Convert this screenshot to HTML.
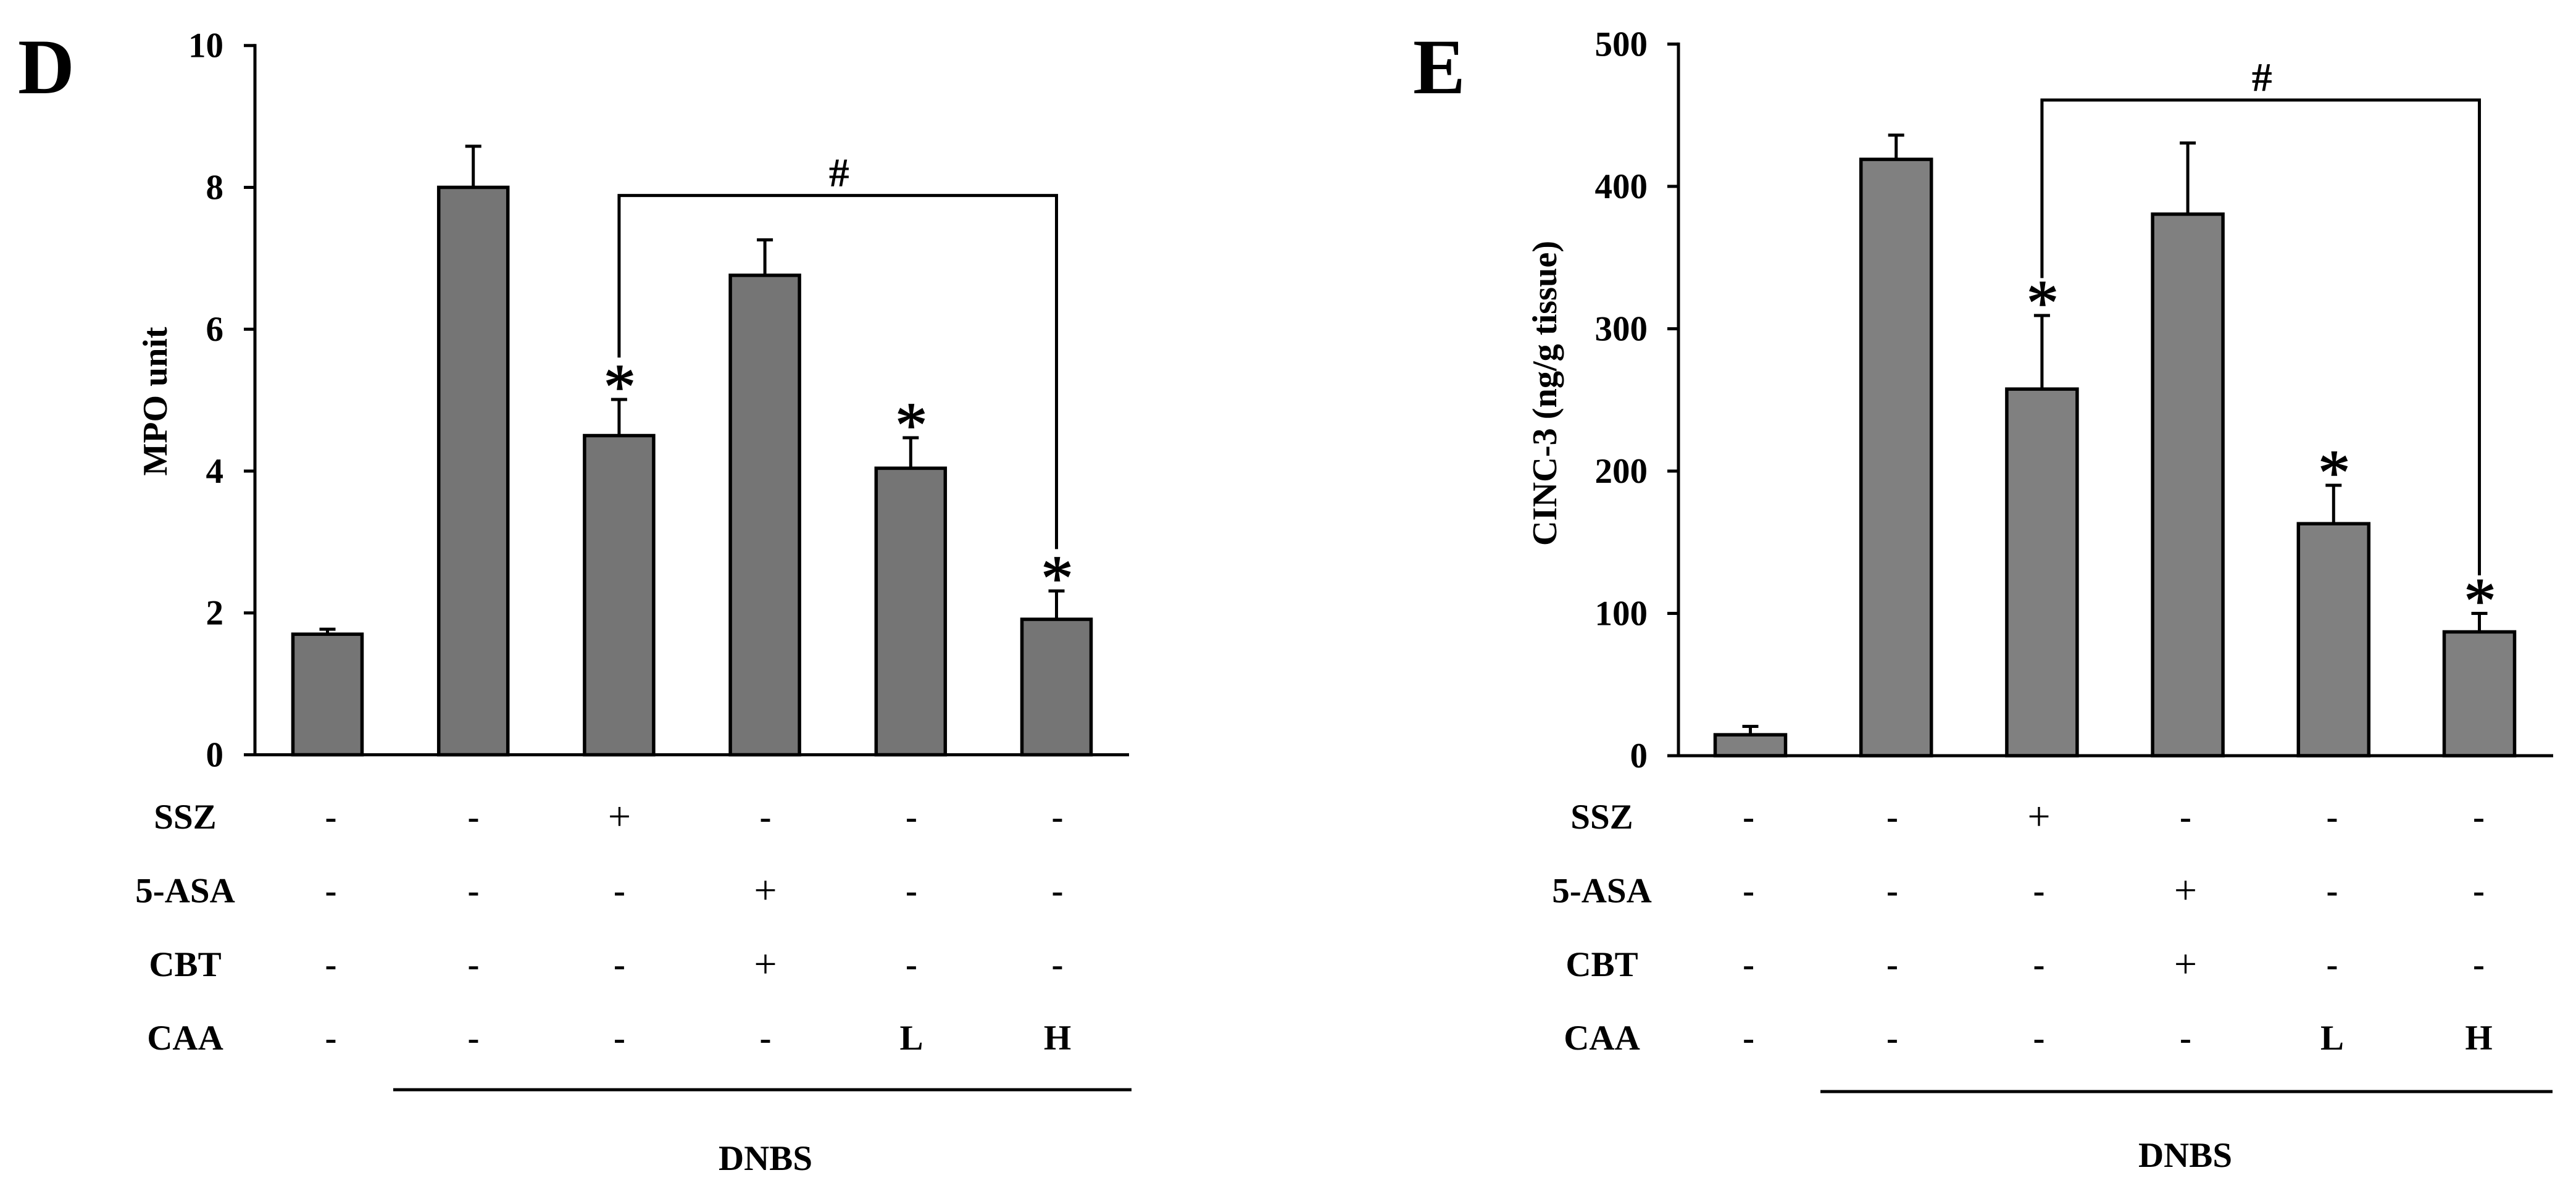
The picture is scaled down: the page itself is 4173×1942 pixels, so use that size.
<!DOCTYPE html>
<html lang="en">
<head>
<meta charset="utf-8">
<title>MPO and CINC-3 bar charts</title>
<style>
  html, body { margin: 0; padding: 0; background: #fff; }
  svg { display: block; }
  text { font-family: "Liberation Serif", "Times New Roman", serif; font-weight: bold; fill: #000; }
</style>
</head>
<body>
<svg id="figure" xmlns="http://www.w3.org/2000/svg" width="4173" height="1942" viewBox="0 0 4173 1942">
  <rect x="0" y="0" width="4173" height="1942" fill="#fff"/>
  <text x="29" y="151" font-size="127">D</text>
  <text x="2289" y="151" font-size="127">E</text>
  <text transform="translate(270 650) rotate(-90)" text-anchor="middle" font-size="56">MPO unit</text>
  <text transform="translate(2521 637) rotate(-90)" text-anchor="middle" font-size="56.3">CINC-3 (ng/g tissue)</text>
  <text x="1240" y="1895" text-anchor="middle" font-size="57">DNBS</text>
  <text x="3540" y="1890" text-anchor="middle" font-size="57">DNBS</text>
</svg>
<script>
// ---- data ----
const groups = ['control', 'dnbs', 'ssz', '5-asa-cbt', 'caa-low', 'caa-high'];

const mpoValues = [1.70, 8.00, 4.50, 6.76, 4.04, 1.91];
const mpoUpper = [1.77, 8.58, 5.01, 7.26, 4.47, 2.31];
const mpoTicks = [0, 2, 4, 6, 8, 10];
const mpoStarred = [2, 4, 5];
const mpoBracketTop = 7.885;
const mpoBracketEnds = [5.60, 2.90];

const cincValues = [14.7, 419, 257.6, 380.5, 163, 87];
const cincUpper = [20.6, 436, 309.3, 430.5, 190, 100];
const cincTicks = [0, 100, 200, 300, 400, 500];
const cincStarred = [2, 4, 5];
const cincBracketTop = 460.7;
const cincBracketEnds = [335.6, 126.7];

const rowLabels = ['SSZ', '5-ASA', 'CBT', 'CAA'];
const rowSSZ = ['-', '-', '+', '-', '-', '-'];
const rowASA = ['-', '-', '-', '+', '-', '-'];
const rowCBT = ['-', '-', '-', '+', '-', '-'];
const rowCAA = ['-', '-', '-', '-', 'L', 'H'];

// ---- drawing ----
const svgNS = 'http://www.w3.org/2000/svg';
const root = document.getElementById('figure');

function mk(tag, parent, attrs, txt) {
  const el = document.createElementNS(svgNS, tag);
  for (const k in attrs) el.setAttribute(k, attrs[k]);
  if (txt !== undefined) el.textContent = txt;
  parent.appendChild(el);
  return el;
}

function drawPanel(p) {
  const yScale = v => p.y0 - (v - p.domain[0]) / (p.domain[1] - p.domain[0]) * (p.y0 - p.yTop);
  const xScale = i => p.x0 + i * p.step;
  const rowX = i => p.rowX0 + i * p.rowStep + (i === 0 ? p.firstNudge : 0);

  const g = mk('g', root, {});
  
  

  // bars and error bars
  p.values.forEach((v, i) => {
    const cx = xScale(i);
    const top = yScale(v);
    const bar = mk('rect', g, { x: cx - p.barW / 2, y: top, width: p.barW, height: p.y0 - top, fill: p.fill, stroke: '#000', 'stroke-width': 5.5 });
    
    

    const capY = yScale(p.upper[i]);
    const stem = mk('line', g, { x1: cx, x2: cx, y1: top, y2: capY, stroke: '#000', 'stroke-width': 5 });
    
    

    const cap = mk('line', g, { x1: cx - 13, x2: cx + 13, y1: capY, y2: capY, stroke: '#000', 'stroke-width': 5 });
    
    
  });

  // axes
  const yAxis = mk('line', g, { x1: p.axisX, x2: p.axisX, y1: yScale(p.domain[1]) - 2.5, y2: p.y0 + 2.5, stroke: '#000', 'stroke-width': 5 });
  
  

  const xAxis = mk('line', g, { x1: p.axisX - 18, x2: p.axisEnd, y1: p.y0, y2: p.y0, stroke: '#000', 'stroke-width': 5 });
  
  

  p.ticks.forEach(t => {
    const ty = yScale(t);
    const tick = mk('line', g, { x1: p.axisX - 18, x2: p.axisX, y1: ty, y2: ty, stroke: '#000', 'stroke-width': 5 });
    
    

    const label = mk('text', g, { x: p.labelRight, y: ty + 19, 'text-anchor': 'end', 'font-size': 57 }, String(t));
    
    
  });

  // significance stars
  p.starred.forEach(i => {
    const star = mk('text', g, { x: xScale(i) + 1, y: yScale(p.upper[i]) - 30 + 44, 'text-anchor': 'middle', 'font-size': 104, stroke: '#000', 'stroke-width': 1.5, style: 'font-weight:normal' }, '*');
    
    
  });

  // bracket between SSZ and CAA high
  const bl = xScale(2), br = xScale(5), bt = yScale(p.bracketTop);
  const bracket = mk('path', g, {
    d: 'M' + bl + ' ' + yScale(p.bracketEnds[0]) + 'V' + bt + 'H' + br + 'V' + yScale(p.bracketEnds[1]),
    fill: 'none', stroke: '#000', 'stroke-width': 5
  });
  
  

  const hash = mk('text', g, { x: (bl + br) / 2 + 2, y: bt - 15, 'text-anchor': 'middle', 'font-size': 66 }, '#');
  
  

  // treatment table
  [rowSSZ, rowASA, rowCBT, rowCAA].forEach((row, r) => {
    const base = p.rowBase + r * p.rowGap;
    const head = mk('text', g, { x: p.rowLabelX, y: base, 'text-anchor': 'middle', 'font-size': 57 }, rowLabels[r]);
    
    

    row.forEach((s, i) => {
      const isPlus = s === '+';
      const cell = mk('text', g, {
        x: rowX(i), y: isPlus ? base + 2 : base, 'text-anchor': 'middle',
        'font-size': isPlus ? 66 : 57, style: isPlus ? 'font-weight:normal' : 'font-weight:bold'
      }, s);
      
      
    });
  });

  const dnbs = mk('line', g, { x1: p.dnbsX1, x2: p.dnbsX2, y1: p.dnbsY, y2: p.dnbsY, stroke: '#000', 'stroke-width': 5 });
  
  
}

drawPanel({
  id: 'd', values: mpoValues, upper: mpoUpper, ticks: mpoTicks, starred: mpoStarred,
  bracketTop: mpoBracketTop, bracketEnds: mpoBracketEnds, domain: [0, 10],
  y0: 1222.5, yTop: 73.7, x0: 530.5, step: 236.2, barW: 112, fill: '#757575',
  axisX: 413, axisEnd: 1829, labelRight: 362,
  rowX0: 530.5, rowStep: 236.5, firstNudge: 5.5, rowBase: 1342, rowGap: 119.4, rowLabelX: 300,
  dnbsX1: 637, dnbsX2: 1833, dnbsY: 1765
});

drawPanel({
  id: 'e', values: cincValues, upper: cincUpper, ticks: cincTicks, starred: cincStarred,
  bracketTop: cincBracketTop, bracketEnds: cincBracketEnds, domain: [0, 500],
  y0: 1224, yTop: 71.4, x0: 2835.5, step: 236.2, barW: 114, fill: '#808080',
  axisX: 2719, axisEnd: 4136, labelRight: 2669,
  rowX0: 2828, rowStep: 237.5, firstNudge: 4.6, rowBase: 1342, rowGap: 119.4, rowLabelX: 2595,
  dnbsX1: 2949, dnbsX2: 4135, dnbsY: 1768
});
</script>
</body>
</html>
